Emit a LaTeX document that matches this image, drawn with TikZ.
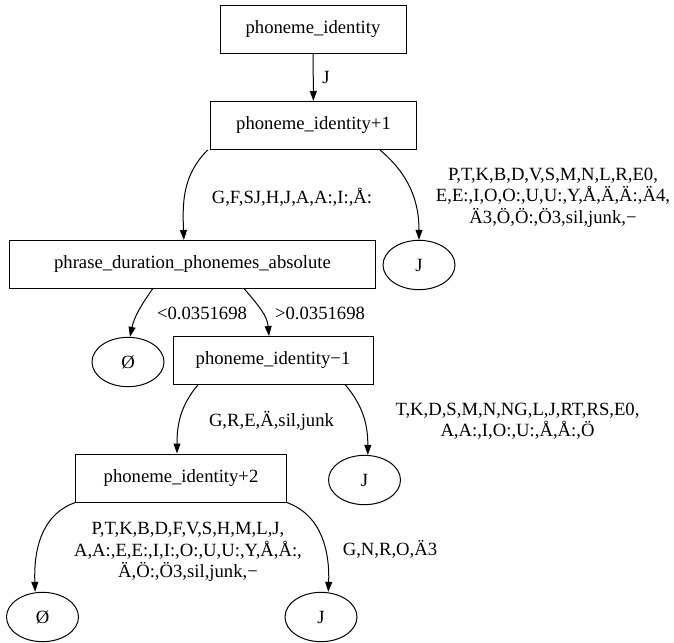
\documentclass[tikz,border=0pt]{standalone}
\usepackage{fontspec}
\setmainfont{Liberation Serif}
\usetikzlibrary{arrows.meta,shapes.geometric}

\tikzset{
  box/.style={draw, line width=0.75pt, rectangle, inner sep=0pt, minimum height=36pt},
  leaf/.style={draw, line width=0.75pt, ellipse, inner sep=0pt, minimum width=54pt, minimum height=37pt},
  edge/.style={draw, line width=0.75pt, -{Triangle[length=7.5pt,width=5.2pt]}},
  elabel/.style={align=center, inner sep=0pt},
}

\begin{document}
\begin{tikzpicture}[x=0.75pt, y=-0.75pt, font=\fontsize{14}{16}\selectfont]
\useasboundingbox[fill=white] (0,0) rectangle (674,642);

% decision nodes
\node[box, minimum width=139.5pt] (n0) at (313,29.5) {phoneme\_identity};
\node[box, minimum width=155pt]   (n1) at (313.5,125.5) {phoneme\_identity+1};
\node[box, minimum width=274pt]   (n2) at (192.5,264.5) {phrase\_duration\_phonemes\_absolute};
\node[box, minimum width=150pt]   (n3) at (273,360.5) {phoneme\_identity−1};
\node[box, minimum width=158pt]   (n4) at (181,478) {phoneme\_identity+2};

% leaves
\node[leaf] (j1) at (419,265) {J};
\node[leaf] (z1) at (128,362) {Ø};
\node[leaf] (j2) at (364.5,480) {J};
\node[leaf] (z2) at (42.5,617) {Ø};
\node[leaf] (j3) at (321,617) {J};

% branches
\draw[edge] (n0) -- (n1);
\draw[edge] ([xshift=-1.5pt]n1.south west) to[out=-135, in=92] ([xshift=-6.5pt]n2.north);
\draw[edge] ([xshift=-28pt]n1.south east) to[out=-40, in=90] (j1.north);
\draw[edge] ([xshift=-30pt]n2.south) to[out=-125, in=78] ([xshift=1.5pt]z1.north);
\draw[edge] ([xshift=39pt]n2.south) to[out=-50, in=95] ([xshift=-3pt]n3.north);
\draw[edge] ([xshift=19pt]n3.south west) to[out=-130, in=90] ([xshift=-3pt]n4.north);
\draw[edge] ([xshift=-21pt]n3.south east) to[out=-50, in=90] ([xshift=2.5pt]j2.north);
\draw[edge] (n4.south west) to[out=-160, in=92] ([xshift=-5.5pt]z2.north);
\draw[edge] (n4.south east) to[out=-20, in=88] ([xshift=5.5pt]j3.north);

% branch labels
\node[elabel] (l0) at (326,77) {J};
\node[elabel] (l1) at (292,197) {G,F,SJ,H,J,A,A:,I:,Å:};
\node[elabel] (l2) at (553,197.5) {P,T,K,B,D,V,S,M,N,L,R,E0,\\E,E:,I,O,O:,U,U:,Y,Å,Ä,Ä:,Ä4,\\Ä3,Ö,Ö:,Ö3,sil,junk,−};
\node[elabel] (l3) at (202,313) {<0.0351698};
\node[elabel] (l4) at (320,313) {>0.0351698};
\node[elabel] (l5) at (271.5,421) {G,R,E,Ä,sil,junk};
\node[elabel] (l6) at (517.5,421) {T,K,D,S,M,N,NG,L,J,RT,RS,E0,\\A,A:,I,O:,U:,Å,Å:,Ö};
\node[elabel] (l7) at (188,552) {P,T,K,B,D,F,V,S,H,M,L,J,\\A,A:,E,E:,I,I:,O:,U,U:,Y,Å,Å:,\\Ä,Ö:,Ö3,sil,junk,−};
\node[elabel] (l8) at (390,549) {G,N,R,O,Ä3};
\end{tikzpicture}
\end{document}
